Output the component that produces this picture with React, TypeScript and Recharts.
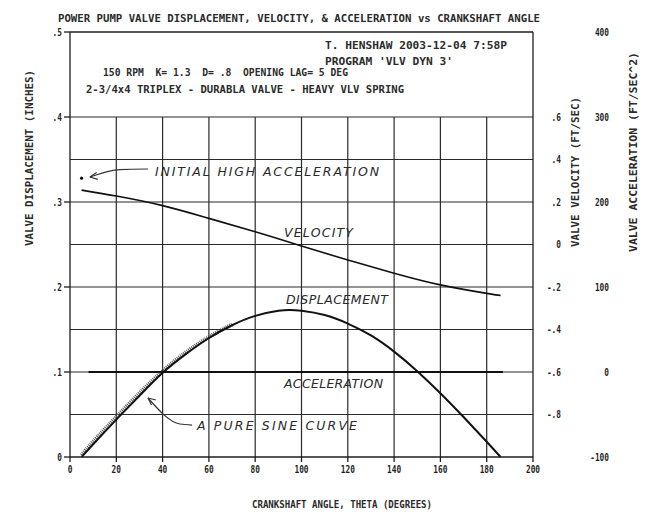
import React from 'react';
import { ComposedChart, Line, Scatter, XAxis, YAxis, ReferenceLine, Customized } from 'recharts';

// crank angle ticks (degrees)
const angleTicks = [0, 20, 40, 60, 80, 100, 120, 140, 160, 180, 200];
const dispTicks = [0, 0.1, 0.2, 0.3, 0.4, 0.5];
const velTicks = [-0.8, -0.6, -0.4, -0.2, 0, 0.2, 0.4, 0.6];
const accTicks = [-100, 0, 100, 200, 300, 400];

// grid: every 0.05 in. up to .4, every 20 deg
const gridRows = [0.05, 0.1, 0.15, 0.2, 0.25, 0.3, 0.35, 0.4];
const gridCols = [20, 40, 60, 80, 100, 120, 140, 160, 180];

// valve displacement (inches)
const dispAngles = [5, 10, 20, 30, 40, 50, 60, 70, 80, 90, 95, 100, 110, 120, 130, 140, 150, 160, 170, 180, 186];
const dispValues = [0, 0.015, 0.044, 0.072, 0.099, 0.121, 0.14, 0.155, 0.166, 0.172, 0.173, 0.172, 0.167, 0.157, 0.143, 0.124, 0.101, 0.075, 0.047, 0.018, 0];

// the pure sine curve, only seen apart from displacement early on
const sineAngles = [5, 10, 20, 30, 40, 50, 60, 70];
const sineValues = [0.002, 0.018, 0.047, 0.075, 0.101, 0.123, 0.141, 0.156];

// valve velocity (ft/sec)
const velAngles = [5, 20, 40, 60, 80, 100, 120, 140, 160, 180, 186];
const velValues = [0.256, 0.228, 0.183, 0.123, 0.06, -0.007, -0.073, -0.135, -0.19, -0.23, -0.24];

// valve acceleration (ft/sec^2)
const accAngles = [8, 187];
const accValues = [0, 0];
const accInitial = [{ x: 5, y: 228 }];

// hand-drawn arrows, in (deg, inches)
const arrow1Shaft = [{ x: 33.7, y: 0.3388 }, { x: 21.6, y: 0.3382 }, { x: 8.6, y: 0.3294 }];
const arrow1HeadA = [{ x: 8.6, y: 0.3294 }, { x: 12.0, y: 0.3267 }];
const arrow1HeadB = [{ x: 8.6, y: 0.3294 }, { x: 11.5, y: 0.3346 }];
const arrow2Shaft = [{ x: 52.7, y: 0.0376 }, { x: 47.5, y: 0.0388 }, { x: 33.7, y: 0.0694 }];
const arrow2HeadA = [{ x: 33.7, y: 0.0694 }, { x: 35.2, y: 0.0612 }];
const arrow2HeadB = [{ x: 33.7, y: 0.0694 }, { x: 37.1, y: 0.0671 }];

const dispData = dispAngles.map((a, i) => ({ x: a, y: dispValues[i] }));
const sineData = sineAngles.map((a, i) => ({ x: a, y: sineValues[i] }));
const velData = velAngles.map((a, i) => ({ x: a, y: velValues[i] }));
const accData = accAngles.map((a, i) => ({ x: a, y: accValues[i] }));

const MONO = '"DejaVu Sans Mono", "Liberation Mono", monospace';
const HAND = '"DejaVu Sans", sans-serif';
const INK = '#1e1e1e';

// axis ids: r1 = velocity (inner right), r2 = acceleration (outer right)
const VEL = 'r1';
const ACC = 'r2';

const fmtDec = (v: number) => {
  if (v === 0) return '0';
  const s = String(Math.round(v * 10) / 10);
  return s.replace('0.', '.');
};

const PlotTick = (props: any) => {
  const { x, y, payload, anchor, dx = 0, dy = 0, fmt, baseline } = props;
  const label = fmt ? fmt(payload.value) : String(payload.value);
  return (
    <text
      x={x + dx}
      y={y + dy}
      textAnchor={anchor}
      dominantBaseline={baseline || 'central'}
      fontFamily={MONO}
      fontSize={10}
      fontWeight="bold"
      fill={INK}
      textLength={label.length * 4.7}
      lengthAdjust="spacingAndGlyphs"
    >
      {label}
    </text>
  );
};

const Typed = ({ x, y, w, children, rotate, anchor = 'start' }: any) => (
  <text
    x={x}
    y={y}
    fontFamily={MONO}
    fontSize={10}
    fontWeight="bold"
    fill="#2b2b2b"
    textAnchor={anchor}
    textLength={w}
    lengthAdjust="spacingAndGlyphs"
    style={{ whiteSpace: 'pre' }}
    transform={rotate ? `rotate(-90 ${x} ${y})` : undefined}
  >
    {children}
  </text>
);

const Hand = ({ x, y, w, children }: any) => (
  <text
    x={x}
    y={y}
    fontFamily={HAND}
    fontStyle="italic"
    fontSize={12.5}
    fill="#2a2a2a"
    textLength={w}
    lengthAdjust="spacing"
  >
    {children}
  </text>
);

const Notes = () => (
  <g>
    <Typed x={58} y={22} w={482}>POWER PUMP VALVE DISPLACEMENT, VELOCITY, &amp; ACCELERATION vs CRANKSHAFT ANGLE</Typed>
    <Typed x={325} y={49} w={182}>T. HENSHAW 2003-12-04 7:58P</Typed>
    <Typed x={325} y={65} w={128}>PROGRAM 'VLV DYN 3'</Typed>
    <Typed x={103} y={76} w={245}>150 RPM  K= 1.3  D= .8  OPENING LAG= 5 DEG</Typed>
    <Typed x={86} y={93} w={318}>2-3/4x4 TRIPLEX - DURABLA VALVE - HEAVY VLV SPRING</Typed>
    <Typed x={33} y={158} w={176} anchor="middle" rotate>VALVE DISPLACEMENT (INCHES)</Typed>
    <Typed x={579} y={172} w={150} anchor="middle" rotate>VALVE VELOCITY (FT/SEC)</Typed>
    <Typed x={637} y={152} w={200} anchor="middle" rotate>VALVE ACCELERATION (FT/SEC^2)</Typed>
    <Typed x={342} y={508} w={180} anchor="middle">CRANKSHAFT ANGLE, THETA (DEGREES)</Typed>
    <Hand x={155} y={176} w={224}>INITIAL HIGH ACCELERATION</Hand>
    <Hand x={284} y={237} w={69}>VELOCITY</Hand>
    <Hand x={286} y={304} w={102}>DISPLACEMENT</Hand>
    <Hand x={284} y={388} w={99}>ACCELERATION</Hand>
    <Hand x={197} y={430} w={160}>A PURE SINE CURVE</Hand>
  </g>
);

const arrowLine = (data: { x: number; y: number }[], key: string) => (
  <Line
    key={key}
    yAxisId="disp"
    data={data}
    dataKey="y"
    type="monotone"
    stroke="#333"
    strokeWidth={1.2}
    dot={false}
    activeDot={false}
    isAnimationActive={false}
    legendType="none"
  />
);

export default function App() {
  return (
    <div style={{ position: 'absolute', left: 0, top: 0, width: 646, height: 512, background: '#fff' }}>
      <ComposedChart width={646} height={512} margin={{ top: 32, right: 0, bottom: 0, left: 0 }}>
        <XAxis
          type="number"
          dataKey="x"
          domain={[0, 200]}
          ticks={angleTicks}
          height={55}
          tickSize={5}
          tickMargin={2}
          stroke={INK}
          strokeWidth={1.3}
          allowDuplicatedCategory={false}
          tick={<PlotTick anchor="middle" dy={9} baseline="auto" />}
        />
        <YAxis
          yAxisId="disp"
          orientation="left"
          type="number"
          domain={[0, 0.5]}
          ticks={dispTicks}
          width={70}
          tickSize={6}
          tickMargin={2}
          stroke={INK}
          strokeWidth={1.3}
          tick={<PlotTick anchor="end" fmt={fmtDec} />}
        />
        <YAxis
          yAxisId={VEL}
          orientation="right"
          type="number"
          domain={[-1, 1]}
          ticks={velTicks}
          width={50}
          tickSize={0}
          tickMargin={2}
          axisLine={false}
          tickLine={false}
          tick={<PlotTick anchor="end" dx={26} fmt={fmtDec} />}
        />
        <YAxis
          yAxisId={ACC}
          orientation="right"
          type="number"
          domain={[-100, 400]}
          ticks={accTicks}
          width={63}
          tickSize={0}
          tickMargin={2}
          axisLine={false}
          tickLine={false}
          tick={<PlotTick anchor="end" dx={24} />}
        />

        {gridRows.map((r) => (
          <ReferenceLine key={'r' + r} yAxisId="disp" y={r} stroke="#2a2a2a" strokeWidth={1.2} />
        ))}
        {gridCols.map((c) => (
          <ReferenceLine
            key={'c' + c}
            yAxisId="disp"
            segment={[{ x: c, y: 0 }, { x: c, y: 0.4 }]}
            stroke="#2a2a2a"
            strokeWidth={1.2}
          />
        ))}
        <ReferenceLine yAxisId="disp" y={0.5} stroke={INK} strokeWidth={1.3} />
        <ReferenceLine yAxisId="disp" x={200} stroke={INK} strokeWidth={1.3} />

        <Line
          yAxisId="disp"
          data={sineData}
          dataKey="y"
          type="natural"
          stroke="#555"
          strokeWidth={4}
          strokeDasharray="1 1"
          dot={false}
          isAnimationActive={false}
        />
        <Line
          yAxisId="disp"
          data={dispData}
          dataKey="y"
          type="natural"
          stroke="#111"
          strokeWidth={2}
          dot={false}
          isAnimationActive={false}
        />
        <Line
          yAxisId={VEL}
          data={velData}
          dataKey="y"
          type="natural"
          stroke="#111"
          strokeWidth={1.6}
          dot={false}
          isAnimationActive={false}
        />
        <Line
          yAxisId={ACC}
          data={accData}
          dataKey="y"
          type="linear"
          stroke="#111"
          strokeWidth={2}
          dot={false}
          isAnimationActive={false}
        />
        <Scatter
          yAxisId={ACC}
          data={accInitial}
          dataKey="y"
          fill="#111"
          shape={(p: any) => <circle cx={p.cx} cy={p.cy} r={1.6} fill="#111" />}
          isAnimationActive={false}
        />

        {arrowLine(arrow1Shaft, 'a1')}
        {arrowLine(arrow1HeadA, 'a1a')}
        {arrowLine(arrow1HeadB, 'a1b')}
        {arrowLine(arrow2Shaft, 'a2')}
        {arrowLine(arrow2HeadA, 'a2a')}
        {arrowLine(arrow2HeadB, 'a2b')}

        <Customized component={Notes} />
      </ComposedChart>
    </div>
  );
}
